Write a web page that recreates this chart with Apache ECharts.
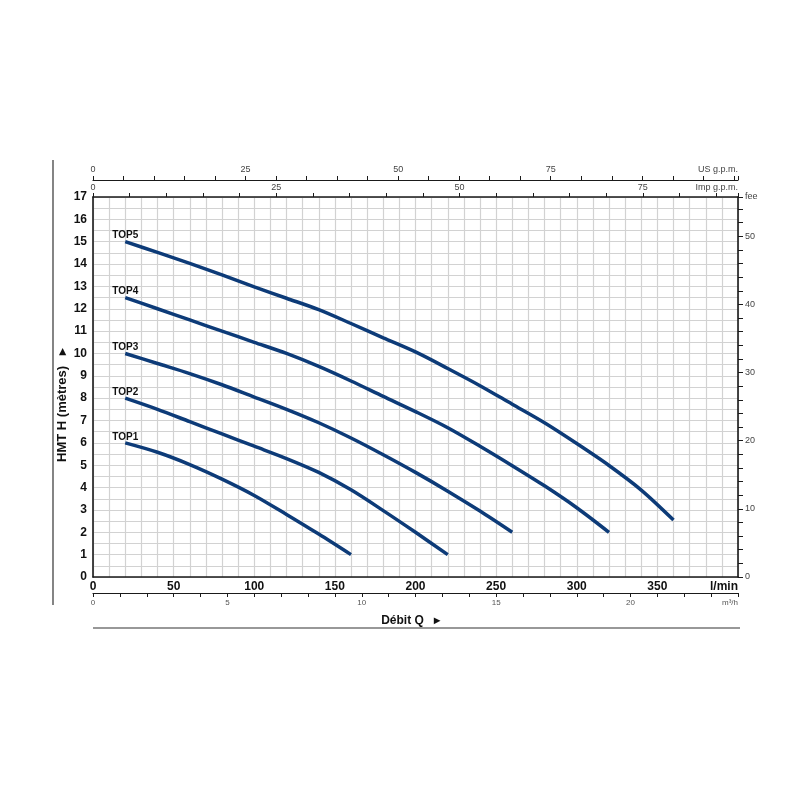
<!DOCTYPE html>
<html>
<head>
<meta charset="UTF-8">
<title>Courbes TOP</title>
<script src="https://cdn.jsdelivr.net/npm/echarts@6/dist/echarts.min.js"></script>
<style>
  body { margin: 0; background: #fff; }
  #chart { width: 800px; height: 800px; }
</style>
</head>
<body>
<div id="chart"></div>
<script>
// débit (l/min) des points
var qPoints = [20, 40, 60, 80, 100, 120, 140, 160, 180, 200, 220, 240, 260, 280, 300, 320, 340, 360];
// hauteur (m) par pompe, même ordre que qPoints
var top1 = [6.0, 5.58, 5.03, 4.38, 3.65, 2.8, 1.92, 1.0];
var top2 = [8.0, 7.5, 6.95, 6.4, 5.85, 5.3, 4.68, 3.9, 2.97, 2.0, 1.0];
var top3 = [10.0, 9.55, 9.1, 8.6, 8.05, 7.5, 6.9, 6.22, 5.47, 4.68, 3.84, 2.95, 2.0];
var top4 = [12.5, 12.0, 11.5, 11.0, 10.5, 10.0, 9.42, 8.77, 8.08, 7.4, 6.68, 5.85, 4.98, 4.08, 3.1, 2.0];
var top5 = [15.0, 14.52, 14.03, 13.52, 12.98, 12.47, 11.96, 11.34, 10.7, 10.07, 9.33, 8.56, 7.73, 6.9, 5.97, 4.99, 3.89, 2.55];
var pumpNames = ['TOP1', 'TOP2', 'TOP3', 'TOP4', 'TOP5'];
var pumpHeads = [top1, top2, top3, top4, top5];

// échelles secondaires
var lpmMax = 400;
var m3hMax = lpmMax * 60 / 1000;
var usMax = lpmMax / 3.785;
var impMax = lpmMax / 4.546;
var hMax = 17;
var feetMax = hMax / 0.3048;

var font = "'Liberation Sans Narrow', 'Arial Narrow', 'Liberation Sans', sans-serif";
var lineColor = '#0d3b78';
var gridColor = '#d2d2d2';
var axisColor = '#1a1a1a';

function buildData(heads) {
  var d = [];
  for (var i = 0; i < heads.length; i++) {
    if (i === 0) {
      d.push({ value: [qPoints[i], heads[i]], label: { show: true } });
    } else {
      d.push({ value: [qPoints[i], heads[i]] });
    }
  }
  return d;
}

var series = [];
for (var k = 0; k < pumpNames.length; k++) {
  series.push({
    name: pumpNames[k],
    type: 'line',
    xAxisIndex: 0,
    yAxisIndex: 0,
    data: buildData(pumpHeads[k]),
    smooth: 0.3,
    showSymbol: true,
    symbol: 'circle',
    symbolSize: 0,
    lineStyle: { color: lineColor, width: 3.5, cap: 'butt' },
    itemStyle: { color: lineColor },
    label: {
      show: false,
      position: 'top',
      distance: 1,
      formatter: '{a}',
      color: '#111',
      fontSize: 10,
      fontWeight: 'bold',
      fontFamily: font
    },
    emphasis: { disabled: true },
    z: 5
  });
}

var chart = echarts.init(document.getElementById('chart'));
chart.setOption({
  animation: false,
  backgroundColor: '#fff',
  grid: { left: 93, right: 62, top: 197, bottom: 223 },
  xAxis: [
    {
      // l/min
      type: 'value', position: 'bottom', min: 0, max: lpmMax, interval: 50,
      axisLine: { show: true, lineStyle: { color: axisColor, width: 1.6 } },
      axisTick: { show: false },
      minorTick: { show: false, splitNumber: 5 },
      axisLabel: {
        margin: 4, color: '#111', fontSize: 12, fontWeight: 'bold', fontFamily: font,
        alignMaxLabel: 'right',
        formatter: function (v) { return v === lpmMax ? 'l/min' : v; }
      },
      splitLine: { show: true, lineStyle: { color: gridColor, width: 1.2 } },
      minorSplitLine: { show: true, lineStyle: { color: gridColor, width: 1.2 } }
    },
    {
      // m³/h
      type: 'value', position: 'bottom', offset: 16, min: 0, max: m3hMax, interval: 1,
      axisLine: { show: true, onZero: false, lineStyle: { color: axisColor, width: 1.2 } },
      axisTick: { show: true, length: 4, lineStyle: { color: axisColor } },
      axisLabel: {
        margin: 6, color: '#555', fontSize: 8, fontFamily: font,
        alignMaxLabel: 'right',
        formatter: function (v) {
          if (v === m3hMax) return 'm³/h';
          return v % 5 === 0 ? v : '';
        }
      },
      splitLine: { show: false },
      name: 'Débit Q   ▸',
      nameLocation: 'middle',
      nameGap: 22,
      nameTextStyle: { color: '#111', fontSize: 12, fontWeight: 'bold', fontFamily: font, padding: [0, 10, 0, 0] }
    },
    {
      // US g.p.m.
      type: 'value', position: 'top', offset: 17, min: 0, max: usMax, interval: 5,
      axisLine: { show: true, onZero: false, lineStyle: { color: axisColor, width: 1.2 } },
      axisTick: { show: true, length: 4, lineStyle: { color: axisColor } },
      axisLabel: {
        margin: 6, color: '#444', fontSize: 9, fontFamily: font,
        alignMaxLabel: 'right',
        formatter: function (v) {
          if (v === usMax) return 'US g.p.m.';
          return (v % 25 === 0 && v < 100) ? v : '';
        }
      },
      splitLine: { show: false }
    },
    {
      // Imp g.p.m.
      type: 'value', position: 'top', offset: 0, min: 0, max: impMax, interval: 5,
      axisLine: { show: true, onZero: false, lineStyle: { color: axisColor, width: 1.6 } },
      axisTick: { show: true, length: 4, lineStyle: { color: axisColor } },
      axisLabel: {
        margin: 5, color: '#444', fontSize: 9, fontFamily: font,
        alignMaxLabel: 'right',
        formatter: function (v) {
          if (v === impMax) return 'Imp g.p.m.';
          return v % 25 === 0 ? v : '';
        }
      },
      splitLine: { show: false }
    }
  ],
  yAxis: [
    {
      type: 'value', position: 'left', min: 0, max: hMax, interval: 1,
      axisLine: { show: true, onZero: false, lineStyle: { color: axisColor, width: 1.6 } },
      axisTick: { show: false },
      minorTick: { show: false, splitNumber: 2 },
      axisLabel: { margin: 6, color: '#111', fontSize: 12, fontWeight: 'bold', fontFamily: font },
      splitLine: { show: true, lineStyle: { color: gridColor, width: 1.2 } },
      minorSplitLine: { show: true, lineStyle: { color: gridColor, width: 1.2 } }
    },
    {
      // feet
      type: 'value', position: 'right', min: 0, max: feetMax, interval: 2,
      axisLine: { show: true, onZero: false, lineStyle: { color: axisColor, width: 1.6 } },
      axisTick: { show: true, length: 5, lineStyle: { color: axisColor } },
      axisLabel: {
        margin: 7, color: '#444', fontSize: 9, fontFamily: font,
        formatter: function (v) {
          if (v === feetMax) return 'fee';
          return v % 10 === 0 ? v : '';
        }
      },
      splitLine: { show: false }
    }
  ],
  graphic: [
    { type: 'line', shape: { x1: 53, y1: 160, x2: 53, y2: 605 }, style: { stroke: '#333', lineWidth: 1.2 } },
    { type: 'line', shape: { x1: 93, y1: 628, x2: 740, y2: 628 }, style: { stroke: '#333', lineWidth: 1.2 } },
    {
      type: 'text', x: 62, y: 405, rotation: Math.PI / 2,
      style: {
        text: 'HMT H (mètres)   ▸',
        font: 'bold 13px ' + font,
        fill: '#111',
        align: 'center',
        verticalAlign: 'middle'
      }
    }
  ],
  series: series
});
</script>
</body>
</html>
